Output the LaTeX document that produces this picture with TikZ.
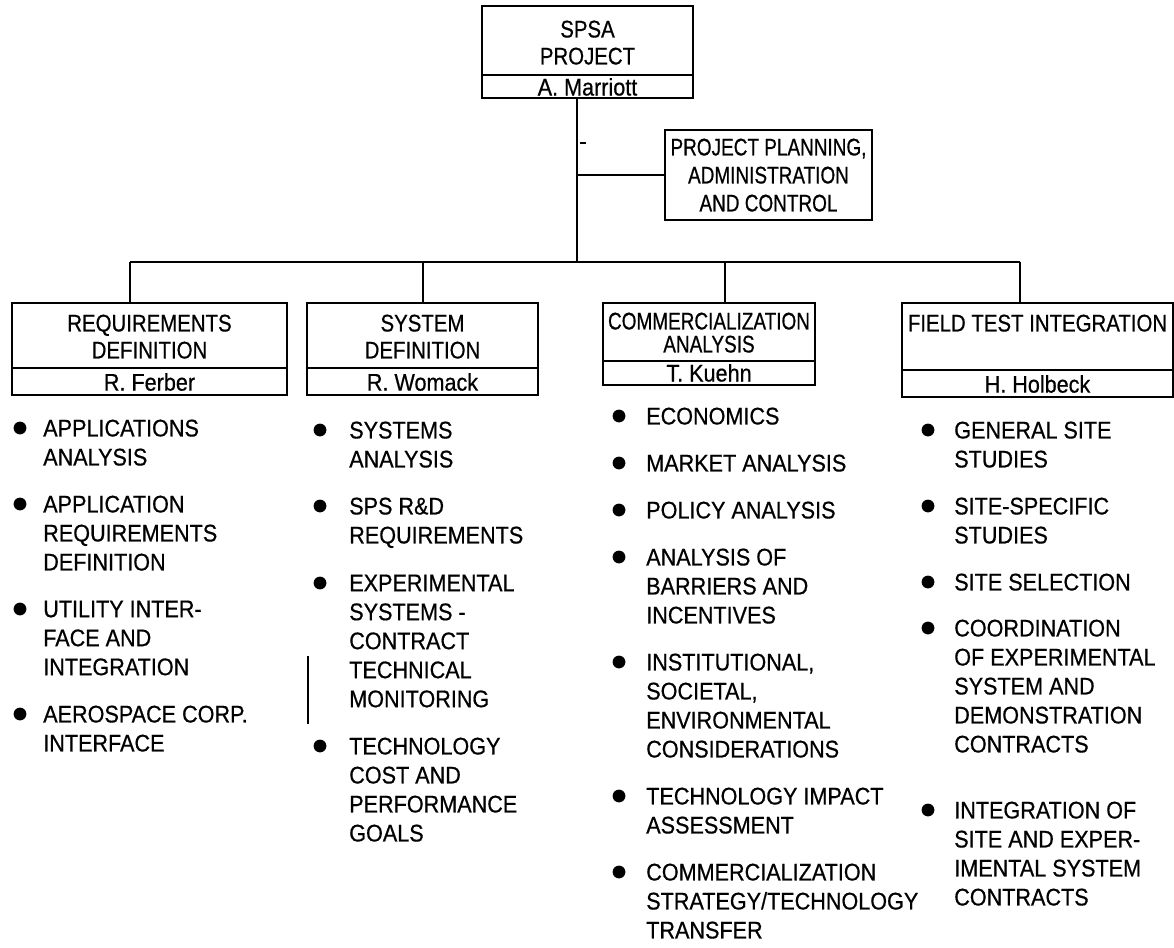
\documentclass[tikz,border=0pt]{standalone}
\usepackage{fontspec}
\usepackage{graphicx}
\setmainfont{Liberation Sans}[FakeStretch=0.9,FakeBold=0.6]
\newfontfamily\hdfont{Liberation Sans}[FakeStretch=0.85,FakeBold=0.6]
\newfontfamily\narfont{Liberation Sans}[FakeStretch=0.79,FakeBold=0.6]
\usetikzlibrary{fit}
\tikzset{
  lbl/.style={font=\fontsize{18}{21.75}\selectfont, inner sep=0pt, align=left, anchor=north west},
  hd/.style={font=\hdfont\fontsize{18}{20.25}\selectfont, inner sep=0pt, align=center, anchor=north},
  nm/.style={font=\fontsize{18}{20}\selectfont, inner sep=0pt, anchor=base},
  box/.style={draw, line width=1.4pt, inner sep=0pt},
  ln/.style={line width=1.4pt},
}
\newcommand\BulItem[5]{%
  \fill (#2,#4) circle[radius=4.8pt];
  \node[lbl] (#1) at (#3,{#4-8.6}) {#5};}
\begin{document}
\begin{tikzpicture}[x=0.75pt,y=-0.75pt]
\useasboundingbox (0,0) rectangle (1174,947);

% top box
\node[box, fit={(482,6) (693,98)}] (top) {};
\draw[ln] (482,75) -- (693,75);
\node[hd] (toph) at (587.5,{29-8.6}) {SPSA\\PROJECT};
\node[nm] (topn) at (587.5,95.5) {A. Marriott};

% side box
\node[box, fit={(665,130) (872,220)}] (side) {};
\node[hd, font=\narfont\fontsize{18}{21}\selectfont] (sidet) at (768.5,{147-8.6}) {PROJECT PLANNING,\\ADMINISTRATION\\AND CONTROL};

% second row boxes
\node[box, fit={(12,303) (287,395)}] (b1) {};
\draw[ln] (12,368) -- (287,368);
\node[hd] (h1) at (149.5,{323-8.6}) {REQUIREMENTS\\DEFINITION};
\node[nm] (n1) at (149.5,390.6) {R. Ferber};

\node[box, fit={(307,303) (538,395)}] (b2) {};
\draw[ln] (307,368) -- (538,368);
\node[hd] (h2) at (422.5,{323-8.6}) {SYSTEM\\DEFINITION};
\node[nm] (n2) at (422.5,390.6) {R. Womack};

\node[box, fit={(603,303) (815,385)}] (b3) {};
\draw[ln] (603,361) -- (815,361);
\node[hd, font=\narfont\fontsize{18}{17.25}\selectfont] (h3) at (709,{321-8.6}) {COMMERCIALIZATION\\ANALYSIS};
\node[nm] (n3) at (709,381.5) {T. Kuehn};

\node[box, fit={(902,303) (1173,397)}] (b4) {};
\draw[ln] (902,370) -- (1173,370);
\node[hd] (h4) at (1037.5,{323-8.6}) {FIELD TEST INTEGRATION};
\node[nm] (n4) at (1037.5,392.6) {H. Holbeck};

% connectors
\coordinate (j0) at (577,175);
\coordinate (busT) at (577,262);
\coordinate (busL) at (130,262);
\coordinate (busR) at (1020,262);
\coordinate (d2) at (423,262);
\coordinate (d3) at (725,262);
\draw[ln] (top.south -| busT) -- (busT);
\draw[ln] (j0) -- (side.west |- j0);
\draw[ln] (busL) -- (busR);
\draw[ln] (busL) -- (b1.north -| busL);
\draw[ln] (d2) -- (b2.north -| d2);
\draw[ln] (d3) -- (b3.north -| d3);
\draw[ln] (busR) -- (b4.north -| busR);
\draw[line width=1pt] (580,143) -- (586,143);

% column 1
\BulItem{c1a}{20}{43}{428}{APPLICATIONS\\ANALYSIS}
\BulItem{c1b}{20}{43}{504}{APPLICATION\\REQUIREMENTS\\DEFINITION}
\BulItem{c1c}{20}{43}{609}{UTILITY INTER-\\FACE AND\\INTEGRATION}
\BulItem{c1d}{20}{43}{714}{AEROSPACE CORP.\\INTERFACE}

% column 2
\BulItem{c2a}{320}{349}{430}{SYSTEMS\\ANALYSIS}
\BulItem{c2b}{320}{349}{506}{SPS R\&D\\REQUIREMENTS}
\BulItem{c2c}{320}{349}{583}{EXPERIMENTAL\\SYSTEMS -\\CONTRACT\\TECHNICAL\\MONITORING}
\BulItem{c2d}{320}{349}{746}{TECHNOLOGY\\COST AND\\PERFORMANCE\\GOALS}
\draw[line width=1pt] (308,656) -- (308,724);

% column 3
\BulItem{c3a}{619}{646}{416}{ECONOMICS}
\BulItem{c3b}{619}{646}{463}{MARKET ANALYSIS}
\BulItem{c3c}{619}{646}{510}{POLICY ANALYSIS}
\BulItem{c3d}{619}{646}{557}{ANALYSIS OF\\BARRIERS AND\\INCENTIVES}
\BulItem{c3e}{619}{646}{662}{INSTITUTIONAL,\\SOCIETAL,\\ENVIRONMENTAL\\CONSIDERATIONS}
\BulItem{c3f}{619}{646}{796}{TECHNOLOGY IMPACT\\ASSESSMENT}
\BulItem{c3g}{619}{646}{872}{COMMERCIALIZATION\\STRATEGY/TECHNOLOGY\\TRANSFER}

% column 4
\BulItem{c4a}{928}{954}{430}{GENERAL SITE\\STUDIES}
\BulItem{c4b}{928}{954}{506}{SITE-SPECIFIC\\STUDIES}
\BulItem{c4c}{928}{954}{582}{SITE SELECTION}
\BulItem{c4d}{928}{954}{628}{COORDINATION\\OF EXPERIMENTAL\\SYSTEM AND\\DEMONSTRATION\\CONTRACTS}
\BulItem{c4e}{928}{954}{810}{INTEGRATION OF\\SITE AND EXPER-\\IMENTAL SYSTEM\\CONTRACTS}
\end{tikzpicture}
\end{document}
